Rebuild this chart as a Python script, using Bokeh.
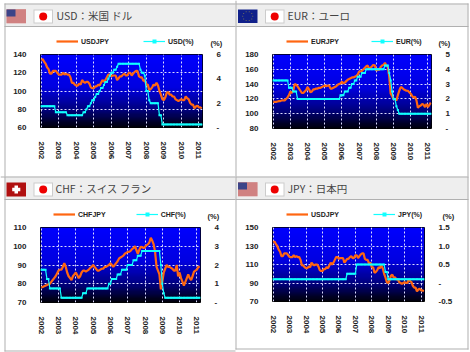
import numpy as np
from bokeh.core.properties import value
from bokeh.embed import file_html
from bokeh.resources import INLINE
from bokeh.layouts import column
from bokeh.plotting import figure
from bokeh.models import Legend, LegendItem, LinearAxis, Range1d, FixedTicker

YEARS = ["2002","2003","2004","2005","2006","2007","2008","2009","2010","2011"]

USDJPY = [134,135,132,130,126,124,119,119,122,122,122,120,
          118,118,118,120,118,119,118,118,115,109,109,107,
          106,106,108,107,112,110,109,110,110,108,104,103,
          103,105,105,107,106,109,112,110,112,115,118,118,
          116,117,117,117,112,114,116,116,118,119,117,117,
          120,120,117,119,121,122,122,116,115,115,111,112,
          107,107,101,102,104,107,106,109,106,100,96,91,
          90,93,98,99,96,96,94,94,91,90,89,90,
          91,90,90,94,92,91,87,85,85,81,83,84,
          82,82,81]
USD_RATE = [1.75,1.75,1.75,1.75,1.75,1.75,1.75,1.75,1.75,1.75,1.25,1.25,
            1.25,1.25,1.25,1.25,1.25,1.25,1,1,1,1,1,1,
            1,1,1,1,1,1.25,1.25,1.5,1.75,1.75,2,2.25,
            2.25,2.5,2.75,2.75,3,3.25,3.25,3.5,3.75,3.75,4,4.25,
            4.5,4.5,4.75,4.75,5,5.25,5.25,5.25,5.25,5.25,5.25,5.25,
            5.25,5.25,5.25,5.25,5.25,5.25,5.25,5.25,4.75,4.5,4.5,4.25,
            3,3,2.25,2,2,2,2,2,2,1,1,0.25,
            0.25,0.25,0.25,0.25,0.25,0.25,0.25,0.25,0.25,0.25,0.25,0.25,
            0.25,0.25,0.25,0.25,0.25,0.25,0.25,0.25,0.25,0.25,0.25,0.25,
            0.25,0.25,0.25]
EURJPY = [116,116,116,116.5,117,117,118,118,118,120,122,125,
          130,128,131,140,139,137,134,131,128,128,130,132,
          136,133,129,130,133,133,134,134,135,135,136,137,
          138,137,138,138,134,134,135,136,137,139,140,141,
          143,141,142,144,146,147,148,149,149,150,151,153,
          157,157,158,160,162,164,165,160,162,164,166,165,
          158,160,159,163,165,166,168.7,165,163,150,127,124,
          120,120,118,125,131,136,135,133,132,131,131,129,
          127,124,122,123,118,108,110,111,113,112,109,113,
          109,112,115]
EUR_RATE = [3.25,3.25,3.25,3.25,3.25,3.25,3.25,3.25,3.25,3.25,3.25,2.75,
            2.75,2.75,2.5,2.5,2.5,2,2,2,2,2,2,2,
            2,2,2,2,2,2,2,2,2,2,2,2,
            2,2,2,2,2,2,2,2,2,2,2,2.25,
            2.25,2.25,2.5,2.5,2.5,2.75,2.75,3,3,3.25,3.25,3.5,
            3.5,3.5,3.75,3.75,3.75,4,4,4,4,4,4,4,
            4,4,4,4,4,4,4.25,4.25,4.25,3.75,3.25,2.5,
            2,2,1.5,1.25,1,1,1,1,1,1,1,1,
            1,1,1,1,1,1,1,1,1,1,1,1,
            1,1,1]
CHFJPY = [78,78.3,78.7,79,79.3,79.7,80,81,82,83,84,85.5,
          87,87.5,87.5,89,91,89,86,84,83,82,84,85,
          86,84.5,83,84,86,87,87,86.5,87,87.5,88.5,89,
          90,89,88,87,87,87.5,88,88,89,89,89.5,90,
          91,90,89,90,91,92,93.5,94,94.5,95,96,96.5,
          97,97,97.5,98.5,99,100,98,96,98,99.7,99.5,99,
          99.7,100.5,101,102,104.5,103,101,97,89,87,85,77,
          81,86,88,90,89,89,88.5,88,87,87,90,84,
          86,83,81,79,81,83,85,83,82,84,86.5,87,
          87.5,89,89]
CHF_RATE = [1.75,1.75,1.75,1.75,1.25,1.25,0.75,0.75,0.75,0.75,0.75,0.75,
            0.75,0.75,0.25,0.25,0.25,0.25,0.25,0.25,0.25,0.25,0.25,0.25,
            0.25,0.25,0.25,0.25,0.25,0.5,0.5,0.5,0.75,0.75,0.75,0.75,
            0.75,0.75,0.75,0.75,0.75,0.75,0.75,0.75,0.75,0.75,0.75,1,
            1,1.25,1.25,1.25,1.25,1.5,1.5,1.5,1.75,1.75,1.75,1.75,
            2,2,2,2,2.25,2.25,2.25,2.5,2.5,2.5,2.75,2.75,
            2.75,2.75,2.75,2.75,2.75,2.75,2.75,2.75,2.75,2.75,2.75,2,
            1,0.5,0.25,0.25,0.25,0.25,0.25,0.25,0.25,0.25,0.25,0.25,
            0.25,0.25,0.25,0.25,0.25,0.25,0.25,0.25,0.25,0.25,0.25,0.25,
            0.25,0.25,0.25]
JPY_RATE = [0.1,0.1,0.1,0.1,0.1,0.1,0.1,0.1,0.1,0.1,0.1,0.1,
            0.1,0.1,0.1,0.1,0.1,0.1,0.1,0.1,0.1,0.1,0.1,0.1,
            0.1,0.1,0.1,0.1,0.1,0.1,0.1,0.1,0.1,0.1,0.1,0.1,
            0.1,0.1,0.1,0.1,0.1,0.1,0.1,0.1,0.1,0.1,0.1,0.1,
            0.1,0.1,0.1,0.1,0.1,0.1,0.25,0.25,0.25,0.25,0.25,0.25,
            0.25,0.5,0.5,0.5,0.5,0.5,0.5,0.5,0.5,0.5,0.5,0.5,
            0.5,0.5,0.5,0.5,0.5,0.5,0.5,0.5,0.5,0.5,0.3,0.3,
            0.1,0.1,0.1,0.1,0.1,0.1,0.1,0.1,0.1,0.1,0.1,0.1,
            0.1,0.1,0.1,0.1,0.1,0.1,0.1,0.1,0.1,0.1,0.1,0.1,
            0.1,0.1,0.1]
MONTHS = list(range(len(USDJPY)))

ORANGE = "#ff6611"
CYAN = "#11ffff"
GREY = "#b0b0b0"
HEAD = "#eeeeee"
TEXT = "#222222"
W, H = 470, 352

# page furniture: headers, borders, flags, titles and legends live on one full-page figure
bg = figure(width=W, height=H, output_backend="svg", toolbar_location=None,
            x_range=Range1d(0, W), y_range=Range1d(H, 0), x_axis_type=None, y_axis_type=None,
            min_border=0, outline_line_color=None, background_fill_color="white", border_fill_color="white",
            frame_align=False,
            styles={"position": "absolute", "left": "0px", "top": "0px"})
bg.grid.visible = False


def box(l, r, t, b, color):
    bg.quad(left=l, right=r, top=t, bottom=b, fill_color=color, line_color=None)


def flag_us(x, y):
    box(x, x + 19.5, y, y + 14, "#e0a8a8")
    for i in range(0, 14, 2):
        box(x, x + 19.5, y + i, y + i + 1, "#c05a5a")
    box(x, x + 9, y, y + 7, "#3c4488")


def flag_eu(x, y):
    box(x, x + 19.5, y, y + 13.5, "#10208a")
    for q in np.linspace(0, 2 * np.pi, 10, endpoint=False):
        sx, sy = x + 9.7 + 5 * np.cos(q), y + 6.7 + 4.6 * np.sin(q)
        box(sx - 0.5, sx + 0.5, sy - 0.5, sy + 0.5, "#6a6a60")


def flag_ch(x, y):
    box(x, x + 19.5, y, y + 14, "#b01010")
    box(x + 8, x + 11.5, y + 3, y + 11, "white")
    box(x + 5.7, x + 13.8, y + 5.2, y + 8.8, "white")


def flag_jp(x, y):
    box(x, x + 19.5, y, y + 14, "#cccccc")
    box(x + 1, x + 18.5, y + 1, y + 13, "white")
    bg.circle(x=[x + 9.7], y=[y + 7], radius=4, fill_color="#ee0000", line_color=None)


def chrome(ox, oy, headt, headb, flag, flagx, title, titlex, borders, names, legx, legy, legspace, pctx, pcty):
    box(ox + 4 if ox == 0 else ox, ox + (235 if ox == 0 else 233), oy + headt, oy + headb, HEAD)
    box(ox + 4 if ox == 0 else ox, ox + (235 if ox == 0 else 233), oy + headb - 0.5, oy + headb + 0.5, GREY)
    for l, r, t, b in borders:
        box(ox + l, ox + r, oy + t, oy + b, GREY)
    flag(ox + flagx, oy + headt + 6)
    flag_jp(ox + flagx + 27, oy + headt + 6)
    bg.text(x=[ox + titlex], y=[oy + (headt + headb) / 2], text=[title], text_font=value("Noto Sans CJK JP"),
            text_font_size="10.5px", text_color="#444444", text_baseline="middle")
    bg.text(x=[ox + pctx], y=[oy + pcty], text=["(%)"], text_font=value("Liberation Sans"),
            text_font_size="7.5px", text_font_style="bold", text_color=TEXT, text_baseline="middle")
    # legend keys: the series themselves are drawn on the chart figures
    l1 = bg.line([-9, -8], [-9, -8], line_color=ORANGE, line_width=2.2)
    l2 = bg.line([-9, -8], [-9, -8], line_color=CYAN, line_width=1.2)
    m2 = bg.scatter([-9], [-9], marker="square", size=2, fill_color=CYAN, line_color=None)
    leg = Legend(items=[LegendItem(label=names[0], renderers=[l1]), LegendItem(label=names[1], renderers=[l2, m2])],
                 orientation="horizontal", location=(ox + legx, H - oy - legy - 5), background_fill_alpha=0,
                 border_line_color=None, margin=0, padding=0, spacing=legspace, glyph_width=22, glyph_height=10,
                 label_text_font="Liberation Sans", label_text_font_size="7px", label_text_font_style="bold",
                 label_text_color=TEXT, label_standoff=3, label_height=10)
    bg.add_layout(leg)


def panel(ox, oy, frame, yr, yticks, rr, rticks, roverride, line, rate):
    l, r, t, b = frame
    w, h = 235, 176
    p = figure(width=w, height=h, output_backend="svg", toolbar_location=None,
               x_range=Range1d(-0.5, len(line) - 0.5), y_range=Range1d(*yr),
               min_border_left=l, min_border_right=w - r, min_border_top=t, min_border_bottom=h - b,
               background_fill_color=None, border_fill_color=None, outline_line_color="black",
               outline_line_width=1, frame_align=False,
               styles={"position": "absolute", "left": f"{ox}px", "top": f"{oy}px"})
    p.extra_y_ranges = {"r": Range1d(*rr)}
    stops = [(0, 255), (0.45, 225), (0.75, 130), (1, 10)]
    n = 64
    frac = np.linspace(0, 1, n)
    blue = np.interp(frac, [s[0] for s in stops], [s[1] for s in stops])
    img = np.zeros((n, 1), dtype=np.uint32)
    view = img.view(dtype=np.uint8).reshape((n, 1, 4))
    view[:, 0, 2] = blue[::-1].astype(np.uint8)
    view[:, 0, 3] = 255
    p.image_rgba(image=[img], x=-0.5, y=yr[0], dw=len(line), dh=yr[1] - yr[0], level="image")

    ticks = [12 * i for i in range(len(YEARS))]
    xa = p.xaxis[0]
    xa.ticker = FixedTicker(ticks=ticks)
    xa.major_label_overrides = {12 * i: y for i, y in enumerate(YEARS)}
    xa.major_label_orientation = "vertical"
    ya = p.yaxis[0]
    ya.ticker = FixedTicker(ticks=yticks)
    ra = LinearAxis(y_range_name="r", ticker=FixedTicker(ticks=rticks), major_label_overrides=roverride)
    p.add_layout(ra, "right")
    for ax in (xa, ya, ra):
        ax.axis_line_color = None
        ax.major_tick_line_color = None
        ax.minor_tick_line_color = None
        ax.major_label_text_font = "Liberation Sans"
        ax.major_label_text_font_size = "8px"
        ax.major_label_text_font_style = "bold"
        ax.major_label_text_color = TEXT
        ax.major_label_standoff = 8
    p.xgrid.ticker = FixedTicker(ticks=ticks)
    p.ygrid.ticker = FixedTicker(ticks=yticks)
    for g in (p.xgrid[0], p.ygrid[0]):
        g.grid_line_color = "#dcdcff"
        g.grid_line_dash = "2 2"
        g.grid_line_width = 1
    p.line(MONTHS, line, line_color=ORANGE, line_width=2.2)
    p.line(MONTHS, rate, y_range_name="r", line_color=CYAN, line_width=1.2)
    p.scatter(MONTHS, rate, y_range_name="r", marker="square", size=2, fill_color=CYAN, line_color=None)
    return p


chrome(0, 0, 3, 26, flag_us, 6, "USD：米国 ドル", 56, [(4, 5, 3, 176), (4, 235, 3, 4)],
       ("USDJPY", "USD(%)"), 56, 41, 34, 210, 43)
chrome(235, 0, 3, 26, flag_eu, 2.5, "EUR：ユーロ", 52, [(0, 1, 0, 176), (232, 233, 3, 176), (0, 233, 3, 4)],
       ("EURJPY", "EUR(%)"), 51, 41, 32, 203, 43)
chrome(0, 176, 0, 23, flag_ch, 6, "CHF：スイス フラン", 55, [(4, 5, 0, 175), (0, 235, 0, 1), (4, 235, 174, 175)],
       ("CHFJPY", "CHF(%)"), 53, 38, 30, 207, 40)
chrome(235, 176, 0, 23, flag_us, 2.5, "JPY：日本円", 52, [(0, 1, 0, 173), (232, 233, 0, 173), (0, 233, 0, 1), (0, 233, 172, 173)],
       ("USDJPY", "JPY(%)"), 51, 38, 34, 207, 40)

p1 = panel(0, 0, (40, 202, 54, 127), (60, 140), [60, 80, 100, 120, 140], (0, 6), [0, 2, 4, 6], {0: "-"}, USDJPY, USD_RATE)
p2 = panel(235, 0, (37, 196, 54, 128), (80, 180), [80, 100, 120, 140, 160, 180], (0, 5), [0, 1, 2, 3, 4, 5], {0: "-"}, EURJPY, EUR_RATE)
p3 = panel(0, 176, (40, 200, 51, 126), (70, 110), [70, 80, 90, 100, 110], (0, 4), [0, 1, 2, 3, 4], {0: "-"}, CHFJPY, CHF_RATE)
p4 = panel(235, 176, (37, 189, 51, 125), (70, 150), [70, 90, 110, 130, 150], (-0.5, 1.5), [-0.5, 0, 0.5, 1, 1.5],
           {-0.5: "-0.5", 0: "-", 0.5: "0.5", 1: "1.0", 1.5: "1.5"}, USDJPY, JPY_RATE)

root = column(bg, p1, p2, p3, p4, spacing=0, width=W, height=H,
              styles={"position": "absolute", "left": "0px", "top": "0px"})
open("out.html", "w").write(file_html(root, INLINE))
